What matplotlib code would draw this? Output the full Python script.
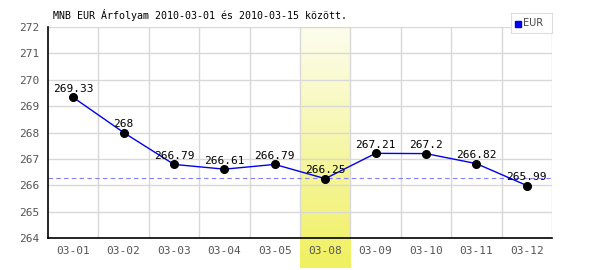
import numpy as np
import matplotlib
matplotlib.use("Agg")
from matplotlib import pyplot as plt

dates = ["03-01", "03-02", "03-03", "03-04", "03-05", "03-08",
         "03-09", "03-10", "03-11", "03-12"]
rates = [269.33, 268, 266.79, 266.61, 266.79, 266.25,
         267.21, 267.2, 266.82, 265.99]
rate_labels = ["269.33", "268", "266.79", "266.61", "266.79", "266.25",
               "267.21", "267.2", "266.82", "265.99"]
ref_level = 266.28
highlight = "03-08"
yticks = [264, 265, 266, 267, 268, 269, 270, 271, 272]

mono = "DejaVu Sans Mono"

fig = plt.figure(figsize=(6, 2.7), dpi=100)
ax = fig.add_axes([0.08, 0.1185, 0.84, 0.7815])
x = np.arange(len(dates))
ax.set_xlim(-0.5, len(dates) - 0.5)
ax.set_ylim(264, 272)

# highlighted day: pale-to-yellow gradient, running below the axis
hi = dates.index(highlight)
grad = np.linspace(0, 1, 256)[:, None]
cmap = matplotlib.colors.LinearSegmentedColormap.from_list(
    "hl", ["#fdfdf0", "#f0f060"])
ax.imshow(grad, cmap=cmap, aspect="auto", origin="upper",
          extent=[hi - 0.5, hi + 0.5, 262.85, 272], clip_on=False, zorder=0)

for b in np.arange(-0.5, len(dates), 1.0)[1:]:
    ax.axvline(b, color="#d8d8d8", lw=1, zorder=1)
for yv in yticks[1:]:
    ax.axhline(yv, color="#d8d8d8", lw=1, zorder=1)

ax.axhline(ref_level, color="#8080ff", lw=0.8, ls=(0, (4, 3)), zorder=2)
ax.plot(x, rates, color="#0000ee", lw=1, zorder=3)
ax.plot(x, rates, "o", color="black", ms=5.5, zorder=4)
for xi, v, lab in zip(x, rates, rate_labels):
    ax.text(xi, v + 0.13, lab, ha="center", va="bottom", fontsize=8,
            family=mono, color="black", zorder=5)

for s in ["top", "right"]:
    ax.spines[s].set_visible(False)
ax.spines["left"].set_color("black")
ax.spines["bottom"].set_color("black")
ax.spines["left"].set_linewidth(1.2)
ax.spines["bottom"].set_linewidth(1.2)

ax.set_xticks(x)
ax.set_xticklabels(dates)
ax.set_yticks(yticks)
ax.tick_params(length=0, labelsize=8, colors="#555555", pad=6)
for lab in ax.get_xticklabels() + ax.get_yticklabels():
    lab.set_family(mono)

fig.text(53 / 600, 1 - 15 / 270, "MNB EUR Árfolyam 2010-03-01 és 2010-03-15 között.",
         family=mono, fontsize=7.2, va="center", ha="left")

# legend box
lax = fig.add_axes([511 / 600, 1 - 33 / 270, 41 / 600, 20 / 270])
lax.set_xticks([])
lax.set_yticks([])
for s in lax.spines.values():
    s.set_color("#dddddd")
lax.set_xlim(0, 41)
lax.set_ylim(0, 20)
lax.add_patch(plt.Rectangle((4, 6.5), 6, 6, color="#0000ee"))
lax.text(12, 9.5, "EUR", fontsize=7, color="#444444", va="center", ha="left")

fig.savefig("out.png", dpi=100)
